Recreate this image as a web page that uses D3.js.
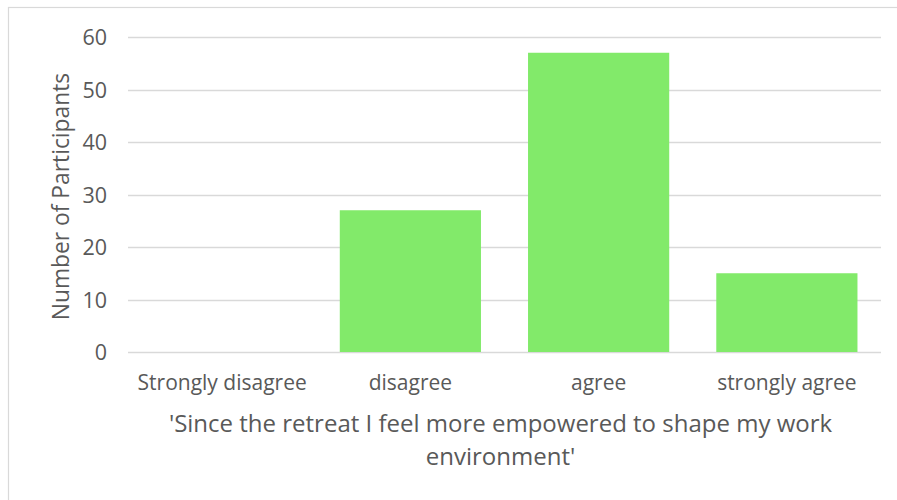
<!DOCTYPE html>
<html>
<head>
<meta charset="utf-8">
<script src="https://cdn.jsdelivr.net/npm/d3@7"></script>
<style>
  html, body { margin: 0; padding: 0; background: #fff; }
  svg { display: block; }
  text { font-family: "Open Sans", Lato, sans-serif; fill: #595959; }
</style>
</head>
<body>
<svg id="chart" width="897" height="500"></svg>
<script>
const categories = ["Strongly disagree", "disagree", "agree", "strongly agree"];
const values = [0, 27, 57, 15];
const yTicks = [0, 10, 20, 30, 40, 50, 60];
const yTitle = "Number of Participants";
const xTitleLines = ["'Since the retreat I feel more empowered to shape my work", "environment'"];

const svg = d3.select("#chart");
const W = 897, H = 500;
const plot = { left: 128, right: 881, top: 37, bottom: 352 };
const FONT = "'Open Sans', Lato, sans-serif";

// outer frame (left & top visible)
svg.append("rect").attr("x", 8.5).attr("y", 7.5).attr("width", W).attr("height", H)
  .attr("fill", "none").attr("stroke", "#d9d9d9").attr("stroke-width", 1.2);

const x = d3.scaleBand().domain(categories).range([plot.left, plot.right])
  .paddingInner(0.25).paddingOuter(0.125);
const y = d3.scaleLinear().domain([0, 60]).range([plot.bottom, plot.top]);

// gridlines
svg.append("g").selectAll("line").data(yTicks).join("line")
  .attr("x1", plot.left).attr("x2", plot.right)
  .attr("y1", d => Math.round(y(d)) + 0.5).attr("y2", d => Math.round(y(d)) + 0.5)
  .attr("stroke", "#d9d9d9").attr("stroke-width", 1.3);

// bars
svg.append("g").selectAll("rect").data(values).join("rect")
  .attr("x", (d, i) => x(categories[i]))
  .attr("width", x.bandwidth())
  .attr("y", d => y(d))
  .attr("height", d => y(0) - y(d))
  .attr("fill", "#82ea6a");

// y axis labels
const yAxis = d3.axisLeft(y).tickValues(yTicks).tickSize(0).tickPadding(0);
const yg = svg.append("g").attr("transform", `translate(${plot.left - 21},0)`).call(yAxis);
yg.select(".domain").remove();
yg.selectAll("text").style("font-size", "21.5px").attr("fill", "#595959")
  .style("font-family", FONT).attr("dy", "0.36em");

// x axis labels
const xAxis = d3.axisBottom(x).tickSize(0).tickPadding(0);
const xg = svg.append("g").attr("transform", `translate(0,${plot.bottom + 23})`).call(xAxis);
xg.select(".domain").remove();
xg.selectAll("text").style("font-size", "21px").attr("fill", "#595959")
  .style("font-family", FONT).attr("dy", "0.71em");

// y title
svg.append("text")
  .attr("transform", `translate(69,${(plot.top + plot.bottom) / 2 + 2}) rotate(-90)`)
  .attr("text-anchor", "middle")
  .style("font-size", "22.8px")
  .text(yTitle);

// x title
const cx = (plot.left + plot.right) / 2 - 4;
svg.append("text").attr("text-anchor", "middle").style("font-size", "24px")
  .selectAll("tspan").data(xTitleLines).join("tspan")
  .attr("x", cx).attr("y", (d, i) => 432 + i * 33)
  .text(d => d);
</script>
</body>
</html>
